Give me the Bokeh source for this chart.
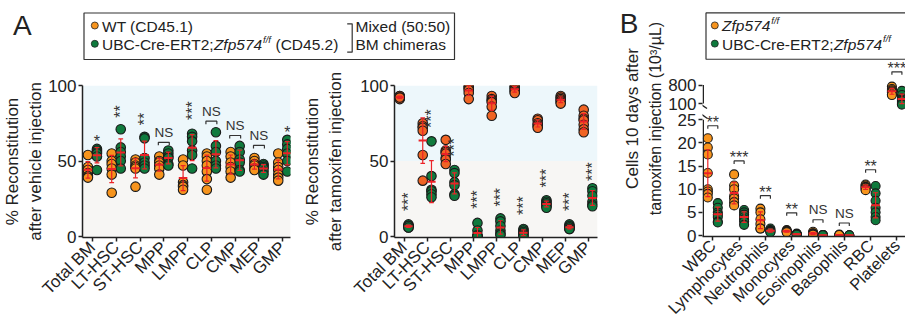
import math
import numpy as np
from bokeh.plotting import figure
from bokeh.layouts import column, row
from bokeh.models import Range1d, LinearAxis, FixedTicker, BoxAnnotation, Title
from bokeh.core.properties import value
from bokeh.embed import file_html
from bokeh.resources import INLINE

FONT = "Liberation Sans"

# ------------------------------------------------------------------ data
cats_A = ["Total BM", "LT-HSC", "ST-HSC", "MPP", "LMPP", "CLP", "CMP", "MEP", "GMP"]

# % reconstitution after vehicle injection
veh_wt = [
    [54, 46, 44, 42, 40, 39],
    [55, 50, 48, 45, 41, 29],
    [51, 49, 47, 46, 45, 33],
    [53, 50, 49, 47, 45, 41],
    [51, 47, 36, 34, 33, 31],
    [55, 53, 50, 47, 43, 38, 31],
    [56, 53, 49, 46, 43, 39],
    [52, 50, 48, 47, 45, 44],
    [55, 49, 46, 44, 41, 39, 37],
]
veh_ko = [
    [58, 57, 56, 55, 53, 44],
    [71, 59, 56, 53, 50, 45],
    [66, 65, 52, 49, 47, 45],
    [57, 55, 53, 52, 48, 47],
    [68, 66, 63, 57, 54, 45],
    [69, 60, 56, 50, 47, 45],
    [60, 56, 51, 49, 44, 43],
    [48, 47, 46, 45, 43, 41],
    [64, 61, 58, 55, 50, 43],
]
veh_sig = ["*", "**", "**", "NS", "***", "NS", "NS", "NS", "*"]
veh_sig_y = [65.6, 82.8, 77.8, 62.4, 83.4, 76.4, 66.9, 60.3, 71.3]

# % reconstitution after tamoxifen injection
tam_wt = [
    [93, 93, 92, 92, 91, 92],
    [75, 73, 72, 70, 54, 37],
    [64, 57, 56, 55, 52, 51, 48],
    [100, 99, 98, 97, 95, 91],
    [93, 91, 90, 89, 86, 80],
    [100, 99, 98, 97, 96, 95],
    [78, 77, 75, 74, 73, 72],
    [93, 92, 91, 90, 89, 88],
    [84, 80, 78, 77, 74, 71, 69],
]
tam_ko = [
    [8, 7, 7, 6, 7, 6],
    [63, 40, 31, 30, 28, 26],
    [44, 42, 36, 34, 28, 27],
    [9, 4, 1, 0, 0, 0],
    [12, 10, 7, 4, 2, 1],
    [5, 4, 3, 2, 1, 0],
    [24, 23, 22, 21, 20, 19],
    [8, 7, 6, 6, 5, 5],
    [32, 30, 27, 23, 21, 20],
]
tam_sig = ["***"] * 9
tam_sig_y = [23, 78, 59, 24.5, 26, 20.5, 38.7, 23, 43]

# blood counts (10^3/uL), 10 days after tamoxifen
cats_B = ["WBC", "Lymphocytes", "Neutrophils", "Monocytes", "Eosinophils",
          "Basophils", "RBC", "Platelets"]
blood_wt = [
    [21, 19, 17.5, 13.5, 10, 9.5, 9, 8.2],
    [13.2, 10.8, 10, 8.5, 8, 7.2, 6.5],
    [5.8, 5, 3.5, 2.5, 1.5, 1.5],
    [1.2, 1, 0.9, 0.8, 0.7],
    [0.8, 0.5, 0.4, 0.3, 0.2],
    [0.2, 0.1, 0.1, 0.1],
    [11, 10.8, 10.5, 10.3, 10, 9.8],
    [740, 650, 600, 560, 520, 450, 420],
]
blood_ko = [
    [7, 6, 5, 4.5, 4, 3, 2.8],
    [5.5, 5, 4.5, 4, 3.5, 3, 2.3],
    [1.5, 1.2, 1, 0.8, 0.7],
    [0.4, 0.3, 0.3, 0.2, 0.2],
    [0.1, 0.1, 0.1, 0.05, 0.05],
    [0.05, 0.05, 0.05],
    [10.7, 9.1, 7.5, 6, 5, 4, 3.3],
    [580, 420, 300, 250, 200, 120, 60],
]
blood_sig = ["**", "***", "**", "**", "NS", "NS", "**", "***"]
blood_sig_y = [23.7, 16.1, 8.6, 4.9, 3.4, 2.7, 14.2, 1300]

ticks_A = [0, 50, 100]
ticks_B_low = [0, 5, 10, 15, 20, 25]
ticks_B_high = [100, 800]

# ------------------------------------------------------------------ style
ORANGE = "#f7941d"
ORANGE2 = "#f06424"
GREEN = "#0f7a3d"
RED = "#ec2227"
INK = "#222222"
BLUE_BG = "#edf7fb"
GRAY_BG = "#f7f6f4"

# broken axis of panel B: 0-25 linear, 100-800 compressed
T100, T800 = 28.5, 32.5


def tf_B(v):
    return v if v <= 25 else T100 + (v - 100) * (T800 - T100) / 700.0


def ident(v):
    return v


def txt(p, x, y, s, size="15.5px", style="normal", align="left",
        baseline="middle", angle=0.0, color=INK, **kw):
    p.text(x=[x], y=[y], text=[s], text_font=value(FONT),
           text_font_size=value(size), text_font_style=value(style),
           text_align=value(align), text_baseline=value(baseline),
           angle=angle, text_color=color, **kw)


def make_panel(width, height, xr, yr, mbl, mbr, mbt, mbb):
    p = figure(width=width, height=height, x_range=Range1d(*xr), y_range=Range1d(*yr),
               x_axis_type=None, y_axis_type=None, toolbar_location=None,
               output_backend="svg", title=None,
               min_border_left=mbl, min_border_right=mbr,
               min_border_top=mbt, min_border_bottom=mbb)
    p.outline_line_color = None
    p.background_fill_color = "white"
    p.border_fill_color = "white"
    return p


def style_axis(ax, fs="17px"):
    ax.axis_line_color = INK
    ax.axis_line_width = 1.5
    ax.major_tick_line_color = INK
    ax.major_tick_line_width = 1.5
    ax.major_tick_out = 4
    ax.major_tick_in = 0
    ax.minor_tick_line_color = None
    ax.major_label_text_font = FONT
    ax.major_label_text_font_size = fs
    ax.major_label_text_color = INK
    ax.major_label_standoff = 2
    ax.axis_label_text_font = FONT
    ax.axis_label_text_font_size = "17px"
    ax.axis_label_text_font_style = "normal"
    ax.axis_label_text_color = INK


def draw_groups(p, wt, ko, c_wt, c_ko, d, mhw, chw, size, f=ident):
    for series, off, col in ((wt, -d, c_wt), (ko, d, c_ko)):
        xs, ys = [], []
        for i, vals in enumerate(series):
            xs += [i + off] * len(vals)
            ys += [f(v) for v in vals]
        p.scatter(x=xs, y=ys, marker="circle", size=size, fill_color=col,
                  line_color="#1a1a1a", line_width=1.1)
    ex0, ey0, ex1, ey1 = [], [], [], []
    mx0, my0, mx1 = [], [], []
    for series, off in ((wt, -d), (ko, d)):
        for i, vals in enumerate(series):
            a = np.asarray(vals, dtype=float)
            m, s = a.mean(), a.std(ddof=1)
            cx = i + off
            lo, hi = f(m - s), f(m + s)
            ex0 += [cx, cx - chw, cx - chw]
            ex1 += [cx, cx + chw, cx + chw]
            ey0 += [lo, lo, hi]
            ey1 += [hi, lo, hi]
            mx0.append(cx - mhw)
            mx1.append(cx + mhw)
            my0.append(f(m))
    p.segment(x0=ex0, y0=ey0, x1=ex1, y1=ey1, line_color=RED, line_width=1.2)
    p.segment(x0=mx0, y0=my0, x1=mx1, y1=my0, line_color=RED, line_width=2.0)


def bracket(p, xa, xb, y, drop):
    p.multi_line(xs=[[xa, xa, xb, xb]], ys=[[y - drop, y, y, y - drop]],
                 line_color="#333333", line_width=1.2)


STAR_FS = 16.0
NS_FS = 13.5
STAR_SHIFT = 0.25 * STAR_FS


def draw_sig_A(p, labels, ys, d, ppx, ppy):
    for i, (lab, yv) in enumerate(zip(labels, ys)):
        if lab == "NS":
            bracket(p, i - 0.23, i + 0.23, yv, 3.0 / ppy)
            txt(p, i, yv + 10.0 / ppy, "NS", size="%.1fpx" % NS_FS,
                align="center", color="#333333")
        elif len(lab) > 1:
            txt(p, i + d, yv, lab, size="%.1fpx" % STAR_FS,
                align="center", angle=math.pi / 2, color="#333333")
        else:
            txt(p, i + d, yv - STAR_SHIFT / ppy, lab, size="%.1fpx" % STAR_FS,
                align="center", color="#333333")


def draw_sig_B(p, labels, ys, d, ppy, f):
    for i, (lab, yv) in enumerate(zip(labels, ys)):
        yb = f(yv)
        bracket(p, i - d, i + d, yb, 3.0 / ppy)
        if lab == "NS":
            txt(p, i, yb + 10.0 / ppy, "NS", size="%.1fpx" % NS_FS,
                align="center", color="#333333")
        else:
            txt(p, i, yb + (7.0 - STAR_SHIFT) / ppy, lab, size="%.1fpx" % STAR_FS,
                align="center", color="#333333")


TOP_H = 60
ROW_H = 266        # A plots: y 60..326
MBT_A, MBB = 25, 89


def panel_A(width, xr, mbl, mbr, wt, ko, c_wt, labels, sig, sig_y, ylabel, lab_standoff):
    ppy = 1.51
    fh = ROW_H - MBT_A - MBB
    yr = (100 - fh / ppy, 100)
    p = make_panel(width, ROW_H, xr, yr, mbl, mbr, MBT_A, MBB)
    ppx = (width - mbl - mbr) / (xr[1] - xr[0])
    p.add_layout(BoxAnnotation(bottom=50, top=100, fill_color=BLUE_BG, fill_alpha=1,
                               line_color=None, level="underlay"))
    p.add_layout(BoxAnnotation(bottom=yr[0], top=50, fill_color=GRAY_BG, fill_alpha=1,
                               line_color=None, level="underlay"))
    draw_groups(p, wt, ko, c_wt, GREEN, 0.19, 0.18, 0.1, 9.5)
    draw_sig_A(p, sig, sig_y, 0.19, ppx, ppy)
    yax = LinearAxis(ticker=FixedTicker(ticks=ticks_A), bounds=(yr[0], 100),
                     axis_label=ylabel)
    style_axis(yax)
    yax.axis_label_standoff = lab_standoff
    p.add_layout(yax, "left")
    xax = LinearAxis(ticker=FixedTicker(ticks=list(range(len(labels)))),
                     major_label_overrides={i: c for i, c in enumerate(labels)})
    style_axis(xax, "17px")
    xax.major_label_orientation = math.pi / 4
    xax.major_label_standoff = 3
    p.add_layout(xax, "below")
    return p


pA1 = panel_A(300, (-0.418, 8.326), 81, 10, veh_wt, veh_ko, ORANGE, cats_A,
              veh_sig, veh_sig_y, "% Reconstitution\nafter vehicle injection", 0)
pA2 = panel_A(300, (-0.418, 8.41), 86, 3, tam_wt, tam_ko, ORANGE2, cats_A,
              tam_sig, tam_sig_y, "% Reconstitution\nafter tamoxifen injection", 12)

# ------------------------------------------------------------------ panel B (full height)
ppyB = 4.65
WB, HB, MBL_B = 305, 326, 102
xrB = (-0.392, 7.327)
fhB = HB - MBB
ytop = 236 / ppyB
yrB = (ytop - fhB / ppyB, ytop)
pB = make_panel(WB, HB, xrB, yrB, MBL_B, 0, 0, MBB)
ppxB = (WB - MBL_B) / (xrB[1] - xrB[0])
# page-pixel ranges for the key drawn inside this panel
pB.extra_x_ranges = {"px": Range1d(MBL_B + 600, 905)}
pB.extra_y_ranges = {"py": Range1d(fhB, 0)}

draw_groups(pB, blood_wt, blood_ko, ORANGE, GREEN, 0.19, 0.165, 0.095, 9.0, tf_B)
draw_sig_B(pB, blood_sig, blood_sig_y, 0.19, ppyB, tf_B)

# broken y-axis spine (two pieces) and break marks
sx = xrB[0] + 0.75 / ppxB
pB.segment(x0=[sx, sx], y0=[yrB[0], tf_B(ticks_B_high[0])],
           x1=[sx, sx], y1=[ticks_B_low[-1], tf_B(ticks_B_high[-1])],
           line_color=INK, line_width=1.5)
bx0 = xrB[0] - 5 / ppxB
bx1 = xrB[0] + 4.5 / ppxB
pB.segment(x0=[bx0, bx0], y0=[T100 + 1.5 / ppyB, 25 + 8.5 / ppyB],
           x1=[bx1, bx1], y1=[T100 - 5.0 / ppyB, 25 + 1.5 / ppyB],
           line_color=INK, line_width=1.3)

yticksB = ticks_B_low + [tf_B(v) for v in ticks_B_high]
yB = LinearAxis(ticker=FixedTicker(ticks=yticksB),
                major_label_overrides={tf_B(v): str(v) for v in ticks_B_high})
style_axis(yB)
yB.axis_line_color = None
pB.add_layout(yB, "left")

# y-axis title (two lines, in the left side panel, shifted down along the axis)
for s, off, fs in (("tamoxifen injection (10\u00b3/\u00b5L)", -27, "16px"),
                   ("Cells 10 days after", -44, "17px")):
    pB.add_layout(Title(text=s, align="center", offset=off, standoff=3,
                        text_font=FONT, text_font_size=fs,
                        text_font_style="normal", text_color=INK), "left")

# panel letter "B" as the single label of an outer, line-less axis
letterB = LinearAxis(y_range_name="py", ticker=FixedTicker(ticks=[23.5]),
                     major_label_overrides={23.5: "B"})
letterB.axis_line_color = None
letterB.major_tick_line_color = None
letterB.major_tick_out = 0
letterB.minor_tick_line_color = None
letterB.major_label_text_font = FONT
letterB.major_label_text_font_size = "28px"
letterB.major_label_text_color = INK
letterB.major_label_standoff = -19
pB.add_layout(letterB, "left")

xB = LinearAxis(ticker=FixedTicker(ticks=list(range(len(cats_B)))),
                major_label_overrides={i: c for i, c in enumerate(cats_B)})
style_axis(xB, "16.5px")
xB.major_label_orientation = math.pi / 4
xB.major_label_standoff = 2
pB.add_layout(xB, "below")

# key B
KB = dict(x_range_name="px", y_range_name="py")
R1, R2 = 25.5, 44.0
pB.quad(left=705.5, right=940, top=12.5, bottom=59, fill_color=None,
        line_color="#333333", line_width=1.2, **KB)
pB.scatter(x=[714.3, 714.3], y=[25, 43.3], marker="circle", size=7,
           fill_color=[ORANGE, GREEN], line_color="#222222", line_width=0.8, **KB)
txt(pB, 721.5, R1, "Zfp574", style="italic", **KB)
txt(pB, 770.8, R1 - 5.5, "f/f", size="9.5px", style="italic", **KB)
txt(pB, 721.5, R2, "UBC-Cre-ERT2;", **KB)
txt(pB, 833.4, R2, "Zfp574", style="italic", **KB)
txt(pB, 882.5, R2 - 5.5, "f/f", size="9.5px", style="italic", **KB)

# ------------------------------------------------------------------ header A (letter + key)
topA = figure(width=600, height=TOP_H, x_range=Range1d(0, 600),
              y_range=Range1d(TOP_H, 0), x_axis_type=None, y_axis_type=None,
              toolbar_location=None, output_backend="svg", title=None,
              min_border_left=0, min_border_right=0, min_border_top=0, min_border_bottom=0)
topA.outline_line_color = None
topA.background_fill_color = "white"
topA.border_fill_color = "white"

txt(topA, 12.5, 24.5, "A", size="28px")
topA.quad(left=83.5, right=454, top=12.5, bottom=59, fill_color=None,
          line_color="#333333", line_width=1.2)
topA.scatter(x=[94.3, 94.3], y=[25, 43.3], marker="circle", size=7,
             fill_color=[ORANGE, GREEN], line_color="#222222", line_width=0.8)
txt(topA, 101.5, R1, "WT (CD45.1)")
txt(topA, 101.5, R2, "UBC-Cre-ERT2;")
txt(topA, 213.4, R2, "Zfp574", style="italic")
txt(topA, 262.5, R2 - 5.5, "f/f", size="9.5px", style="italic")
txt(topA, 275.0, R2, "(CD45.2)")
topA.multi_line(xs=[[346.7, 351.7, 351.7, 346.7]], ys=[[23.3, 23.3, 51.7, 51.7]],
                line_color="#333333", line_width=1.2)
txt(topA, 355, R1, "Mixed (50:50)")
txt(topA, 355, R2, "BM chimeras")

layout = row(column(topA, row(pA1, pA2)), pB)
open("out.html", "w").write(file_html(layout, INLINE))
